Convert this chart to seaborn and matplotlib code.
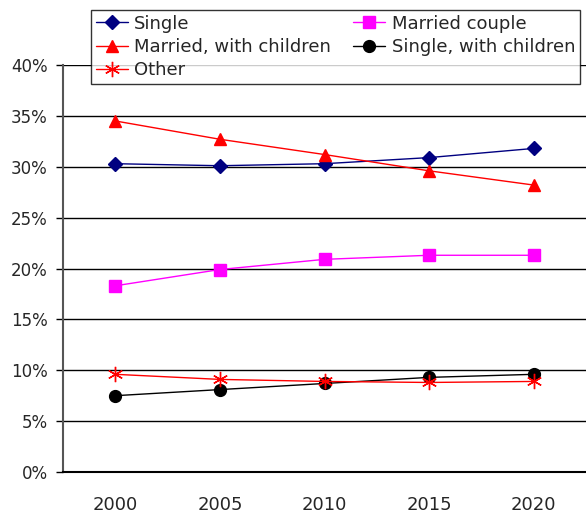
import pandas as pd
import matplotlib.pyplot as plt
import seaborn as sns
from matplotlib.ticker import FixedLocator, PercentFormatter

# Household share by type (%)
years = ['2000', '2005', '2010', '2015', '2020']
single = [30.3, 30.1, 30.3, 30.9, 31.8]
married_couple = [18.3, 19.9, 20.9, 21.3, 21.3]
married_children = [34.5, 32.7, 31.2, 29.6, 28.2]
single_children = [7.5, 8.1, 8.7, 9.3, 9.6]
other = [9.6, 9.1, 8.9, 8.8, 8.9]

series = {
    'Single': single,
    'Married couple': married_couple,
    'Married, with children': married_children,
    'Single, with children': single_children,
    'Other': other,
}
styles = {
    'Single': dict(color='#000080', marker='D', ms=7.5),
    'Married couple': dict(color='#ff00ff', marker='s', ms=8.5),
    'Married, with children': dict(color='#ff0000', marker='^', ms=9),
    'Single, with children': dict(color='#000000', marker='o', ms=8.5),
    'Other': dict(color='#ff0000', marker=(6, 2, 0), ms=11),
}

rows = []
for name, vals in series.items():
    for y, v in zip(years, vals):
        rows.append({'Year': y, 'Share': v, 'Type': name})
df = pd.DataFrame(rows)

sns.set_style('white')
plt.rcParams['font.family'] = ['DejaVu Sans']

fig = plt.figure(figsize=(5.86, 5.18), dpi=100)
ax = fig.add_axes([63 / 586, 46 / 518, 523 / 586, 407 / 518])

for name in series:
    st = styles[name]
    sub = df[df['Type'] == name]
    sns.lineplot(data=sub, x='Year', y='Share', ax=ax, color=st['color'],
                 marker=st['marker'], markersize=st['ms'], linewidth=1.0,
                 markeredgecolor=st['color'], markeredgewidth=1.0, label=name)

# gridlines
ax.set_ylim(0, 40)
ax.set_xlim(-0.5, 4.5)
ax.yaxis.set_major_locator(FixedLocator(range(0, 41, 5)))
ax.yaxis.set_major_formatter(PercentFormatter(decimals=0))
ax.grid(axis='y', color='black', linewidth=1.0)
ax.set_axisbelow(True)

ax.set_xticks(range(5))
ax.set_xticklabels(years)
ax.xaxis.set_minor_locator(FixedLocator([0.5, 1.5, 2.5, 3.5]))
ax.tick_params(axis='x', which='major', length=0, pad=17, labelsize=13)
ax.tick_params(axis='x', which='minor', length=7, direction='in', color='black', width=1)
ax.tick_params(axis='y', which='major', length=5, direction='out', color='black', width=1,
               pad=6, labelsize=12, left=True)

ax.set_xlabel('')
ax.set_ylabel('')
for side in ['top', 'right']:
    ax.spines[side].set_visible(False)
ax.spines['left'].set_color('#555555')
ax.spines['left'].set_linewidth(1.5)
ax.spines['bottom'].set_color('black')
ax.spines['bottom'].set_linewidth(1.5)

h, l = ax.get_legend_handles_labels()
hmap = dict(zip(l, h))
order = ['Single', 'Married, with children', 'Other', 'Married couple', 'Single, with children']
leg = fig.legend([hmap[k] for k in order], order, ncol=2,
                 loc='upper left', bbox_to_anchor=(91 / 586, 1 - 10 / 518),
                 frameon=True, fancybox=False, shadow=False, fontsize=13,
                 borderpad=0.25, labelspacing=0.3, handlelength=1.8,
                 handletextpad=0.35, columnspacing=1.2, borderaxespad=0)
leg.get_frame().set_edgecolor('black')
leg.get_frame().set_linewidth(1.0)
ax.get_legend().remove()

plt.savefig('out.png', dpi=100)
